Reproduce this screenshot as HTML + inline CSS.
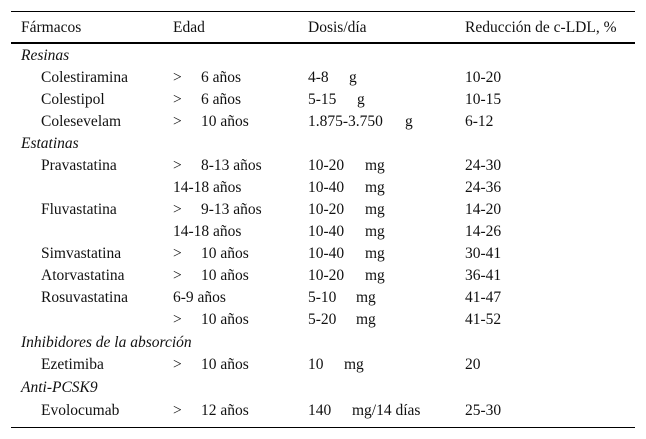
<!DOCTYPE html>
<html><head><meta charset="utf-8"><style>
body{margin:0;background:#fff;width:646px;height:439px;position:relative;font-family:"Liberation Serif",serif;font-size:15.5px;color:#111;overflow:hidden}
.l{position:absolute;left:11px;width:624px;background:#000}
.t{position:absolute;white-space:nowrap;line-height:18px}
</style></head><body>
<div class="l" style="top:11px;height:1px"></div>
<div class="l" style="top:42px;height:2px"></div>
<div class="l" style="top:427px;height:1px"></div>
<div id="c"></div>
<script>
var rows=[
["Fármacos","Edad","","Dosis/día","","Reducción de c-LDL, %",0,"h"],
["Resinas","","","","","",0,"g"],
["Colestiramina",">","6 años","4-8","g","10-20",349],
["Colestipol",">","6 años","5-15","g","10-15",357],
["Colesevelam",">","10 años","1.875-3.750","g","6-12",405],
["Estatinas","","","","","",0,"g"],
["Pravastatina",">","8-13 años","10-20","mg","24-30",365],
["","","14-18 años","10-40","mg","24-36",365],
["Fluvastatina",">","9-13 años","10-20","mg","14-20",365],
["","","14-18 años","10-40","mg","14-26",365],
["Simvastatina",">","10 años","10-40","mg","30-41",365],
["Atorvastatina",">","10 años","10-20","mg","36-41",365],
["Rosuvastatina","","6-9 años","5-10","mg","41-47",356],
["",">","10 años","5-20","mg","41-52",356],
["Inhibidores de la absorción","","","","","",0,"g"],
["Ezetimiba",">","10 años","10","mg","20",344],
["Anti-PCSK9","","","","","",0,"g"],
["Evolocumab",">","12 años","140","mg/14 días","25-30",352]
];
var centers=[28,56,78,100,122,144,166,188,210,232,254,276,298,320,343,365,388,411];
var c=document.getElementById('c');
function add(txt,x,y,it,name){if(!txt)return;var d=document.createElement('div');d.className='t';d.style.left=x+'px';d.style.top=y+'px';if(it)d.style.fontStyle='italic';d.textContent=txt;


c.appendChild(d);}
rows.forEach(function(r,i){
 var y=centers[i]-9;
 if(r[7]=="g"){add(r[0],21,y,true,'group-label');return;}
 if(r[7]=="h"){add(r[0],21,y,false,'header-farmacos');add(r[1],173,y,false,'header-edad');add(r[3],308,y,false,'header-dosis');add(r[5],465,y,false,'header-reduccion');return;}
 add(r[0],41,y,false,'drug-name');
 add(r[1],173,y,false,'age-operator');
 var ax=r[1]?201:173;
 add(r[2],ax,y,false,'age-range');
 add(r[3],308,y,false,'dose-value');
 add(r[4],r[6],y,false,'dose-unit');
 add(r[5],465,y,false,'ldl-reduction');
});
</script>
</body></html>
